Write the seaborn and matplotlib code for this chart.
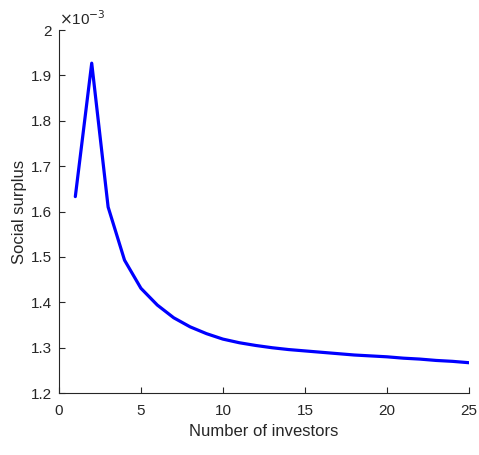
import numpy as np
import pandas as pd
import matplotlib
matplotlib.use('Agg')
import matplotlib.pyplot as plt
from matplotlib.ticker import FuncFormatter
import seaborn as sns

# Data (social surplus, units of 1e-3)
investors = list(range(1, 26))
surplus_e3 = [1.633, 1.927, 1.610, 1.493, 1.431, 1.394, 1.366, 1.346, 1.331, 1.319,
              1.311, 1.305, 1.300, 1.296, 1.293, 1.290, 1.287, 1.284, 1.282, 1.280,
              1.277, 1.275, 1.272, 1.270, 1.267]

df = pd.DataFrame({'n': investors, 'surplus': np.array(surplus_e3) * 1e-3})

sns.set_style('ticks')
plt.rcParams['font.family'] = ['Liberation Sans', 'DejaVu Sans']

fig = plt.figure(figsize=(4.79, 4.55), dpi=100)
ax = fig.add_axes([0.123, 0.136, 0.856, 0.798])

sns.lineplot(data=df, x='n', y='surplus', color='#0000ff', linewidth=2.3, ax=ax)

ax.set_xlim(0, 25)
ax.set_ylim(1.2e-3, 2.0e-3)
ax.set_xticks([0, 5, 10, 15, 20, 25])
ax.set_yticks(np.arange(1.2, 2.01, 0.1) * 1e-3)
ax.yaxis.set_major_formatter(FuncFormatter(lambda v, p: f'{v * 1e3:g}'))

ax.set_xlabel('Number of investors', fontsize=12, color='#262626', labelpad=4)
ax.set_ylabel('Social surplus', fontsize=12, color='#262626', labelpad=3)
ax.tick_params(direction='in', length=4, labelsize=11, colors='#262626', width=0.8)
ax.tick_params(axis='x', pad=8)
ax.tick_params(axis='y', pad=5)
for s in ['left', 'bottom']:
    ax.spines[s].set_color('#262626')
    ax.spines[s].set_linewidth(0.8)
sns.despine(ax=ax)

ax.text(0.0, 1.005, r'$\times$10$^{-3}$', transform=ax.transAxes, fontsize=11,
        color='#262626', ha='left', va='bottom')

fig.savefig('out.png', dpi=100)
